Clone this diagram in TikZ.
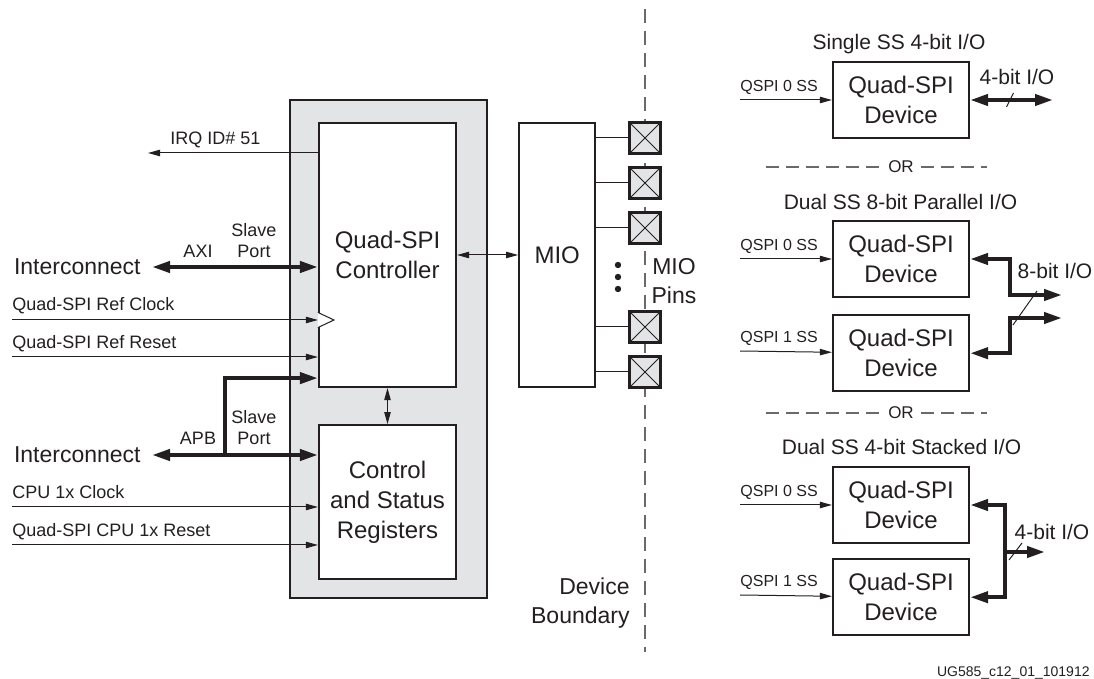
\documentclass[tikz,border=0pt]{standalone}
\usepackage{fontspec}
\setmainfont{Liberation Sans}
\usetikzlibrary{arrows.meta,positioning}
\definecolor{panel}{HTML}{E3E4E5}
\definecolor{ink}{HTML}{231F20}
\definecolor{rule}{HTML}{6A6A6A}

\begin{document}
\begin{tikzpicture}[x=0.5pt, y=-0.5pt,
    box/.style={draw=ink, line width=1.1pt, fill=white, align=center, inner sep=0pt, text=ink, font=\fontsize{12}{15}\selectfont},
    dev/.style={box, minimum width=68pt, minimum height=38pt},
    pin/.style={draw=ink, line width=1.1pt, fill=panel, minimum size=15.5pt, inner sep=0pt,
        path picture={\draw[ink, line width=0.4pt] (path picture bounding box.south west) -- (path picture bounding box.north east)
            (path picture bounding box.north west) -- (path picture bounding box.south east);}},
    wire/.style={draw=ink, line width=0.5pt},
    sig/.style={wire, -{Triangle[length=6pt, width=3.2pt]}},
    dsig/.style={wire, {Triangle[length=6pt, width=3.2pt]}-{Triangle[length=6pt, width=3.2pt]}},
    bus/.style={draw=ink, line width=2pt, -{Triangle[length=9pt, width=5.5pt]}},
    dbus/.style={draw=ink, line width=2pt, {Triangle[length=9pt, width=5.5pt]}-{Triangle[length=9pt, width=5.5pt]}},
    tick/.style={draw=ink, line width=0.5pt},
    lbl/.style={font=\fontsize{9}{10.5}\selectfont, inner sep=0pt, text=ink, align=center},
    small/.style={font=\fontsize{8}{9}\selectfont, inner sep=0pt, text=ink},
    big/.style={font=\fontsize{11.5}{14.5}\selectfont, inner sep=0pt, text=ink},
    title/.style={font=\fontsize{10.5}{12}\selectfont, inner sep=0pt, text=ink},
    orsep/.style={draw=rule, line width=0.6pt, dash pattern=on 6.5pt off 3.5pt}
]
    \useasboundingbox (0,0) rectangle (1094,679);

    % device boundary and pins
    \coordinate (bndtop) at (645,9);
    \coordinate (bndbot) at (645,652);
    \draw[rule, line width=1pt, dash pattern=on 7pt off 4pt] (bndtop) -- (bndbot);

    \node[draw=ink, line width=1.1pt, fill=panel, minimum width=98.5pt, minimum height=249pt] (qspi) at (388.5,349) {};
    \node[box, minimum width=68.5pt, minimum height=132pt] (ctrl) at (387.5,255) {Quad-SPI\\Controller};
    \node[box, minimum width=68.5pt, minimum height=77pt, below=18pt of ctrl] (csr) {Control\\and Status\\Registers};
    \node[box, minimum width=38pt, minimum height=132pt, right=30.5pt of ctrl] (mio) {MIO};

    \node[pin] (pin1) at (645,138) {};
    \node[pin] (pin2) at (645,183) {};
    \node[pin] (pin3) at (645,228) {};
    \node[pin] (pin4) at (645,327) {};
    \node[pin] (pin5) at (645,372) {};
    \draw[wire] (mio.east |- pin1) -- (pin1);
    \draw[wire] (mio.east |- pin2) -- (pin2);
    \draw[wire] (mio.east |- pin3) -- (pin3);
    \draw[wire] (mio.east |- pin4) -- (pin4);
    \draw[wire] (mio.east |- pin5) -- (pin5);
    \fill[ink] (618,265) circle (1.6pt) (618,277) circle (1.6pt) (618,289) circle (1.6pt);

    \node[big, align=center, anchor=north] (pinslbl) at (674,258) {MIO\\Pins};
    \node[big, align=right, anchor=north east] (bndlbl) at (630,577) {Device\\Boundary};

    \draw[dsig] (ctrl) -- (mio);
    \draw[dsig] (ctrl) -- (csr);

    % left side signals
    \coordinate (irq) at (148,153);
    \draw[sig] (ctrl.west |- irq) -- (irq);
    \node[lbl, anchor=base west] (irqlbl) at (170,145) {IRQ ID\# 51};

    \node[big, anchor=east] (icaxi) at (141,267) {Interconnect};
    \draw[dbus] ([xshift=5.5pt]icaxi.east) -- (ctrl.west |- icaxi);
    \node[lbl, anchor=base] (axilbl) at (198,258) {AXI};
    \node[lbl, anchor=south] (axiport) at (254,258) {Slave\\Port};

    \coordinate (refclk) at (12,320);
    \coordinate (refrst) at (12,357);
    \coordinate (cpuclk) at (12,507);
    \coordinate (cpurst) at (12,545);
    \draw[sig] (refclk) -- (ctrl.west |- refclk);
    \draw[sig] (refrst) -- (ctrl.west |- refrst);
    \draw[sig] (cpuclk) -- (csr.west |- cpuclk);
    \draw[sig] (cpurst) -- (csr.west |- cpurst);
    \node[lbl, anchor=base west] at ([yshift=4.5pt]refclk) {Quad-SPI Ref Clock};
    \node[lbl, anchor=base west] at ([yshift=4pt]refrst) {Quad-SPI Ref Reset};
    \node[lbl, anchor=base west] at ([yshift=4pt]cpuclk) {CPU 1x Clock};
    \node[lbl, anchor=base west] at ([yshift=4pt]cpurst) {Quad-SPI CPU 1x Reset};
    \draw[wire, fill=white] ([yshift=3.8pt]ctrl.west |- refclk) -- ([xshift=8pt]ctrl.west |- refclk) -- ([yshift=-3.8pt]ctrl.west |- refclk);

    \node[big, anchor=east] (icapb) at (141,455) {Interconnect};
    \coordinate (apbbr) at (225,455);
    \draw[dbus] ([xshift=5.5pt]icapb.east) -- (csr.west |- icapb);
    \draw[bus] (apbbr) |- ([yshift=5pt]ctrl.south west);
    \node[lbl, anchor=base] (apblbl) at (198,445) {APB};
    \node[lbl, anchor=south] (apbport) at (254,445) {Slave\\Port};

    % flash configurations
    \node[title, anchor=base] (t1) at (899,50) {Single SS 4-bit I/O};
    \node[dev] (dev1) at (901,100) {Quad-SPI\\Device};
    \coordinate (ss1) at (740,100);
    \draw[sig] (ss1) -- (dev1);
    \node[small, anchor=base west] at ([yshift=4pt]ss1) {QSPI 0 SS};
    \coordinate (io1) at (1053,100);
    \draw[dbus] (dev1) -- (io1);
    \draw[tick] (1006.5,107) -- (1013.5,93);
    \node[title, anchor=base] at (1017,85) {4-bit I/O};

    \node[small, font=\fontsize{8.5}{10}\selectfont, inner sep=3.5pt] (or1) at (901,167) {OR};
    \coordinate (or1l) at (766,167);
    \coordinate (or1r) at (987,167);
    \draw[orsep] (or1l) -- (or1);
    \draw[orsep] (or1) -- (or1r);

    \node[title, anchor=base] (t2) at (900.5,210) {Dual SS 8-bit Parallel I/O};
    \node[dev] (dev2) at (901,259) {Quad-SPI\\Device};
    \node[dev, below=8pt of dev2] (dev3) {Quad-SPI\\Device};
    \coordinate (ss2) at (740,259);
    \coordinate (ss3) at (740,351);
    \draw[sig] (ss2) -- (dev2);
    \draw[sig] (ss3) -- (dev3);
    \node[small, anchor=base west] at ([yshift=4pt]ss2) {QSPI 0 SS};
    \node[small, anchor=base west] at ([yshift=4pt]ss3) {QSPI 1 SS};
    \coordinate (j8a) at (1010,295);
    \coordinate (j8b) at (1010,318);
    \coordinate (io8a) at (1062,295);
    \coordinate (io8b) at (1062,318);
    \draw[dbus] (dev2.east) -| (j8a) -- (io8a);
    \draw[dbus] (dev3.east) -| (j8b) -- (io8b);
    \draw[tick] (1013,325) -- (1037,291);
    \node[title, anchor=base] at (1055,279) {8-bit I/O};

    \node[small, font=\fontsize{8.5}{10}\selectfont, inner sep=3.5pt] (or2) at (901,413) {OR};
    \coordinate (or2l) at (766,413);
    \coordinate (or2r) at (987,413);
    \draw[orsep] (or2l) -- (or2);
    \draw[orsep] (or2) -- (or2r);

    \node[title, anchor=base] (t3) at (901.5,455) {Dual SS 4-bit Stacked I/O};
    \node[dev] (dev4) at (901,505) {Quad-SPI\\Device};
    \node[dev, below=7pt of dev4] (dev5) {Quad-SPI\\Device};
    \coordinate (ss4) at (740,505);
    \coordinate (ss5) at (740,595);
    \draw[sig] (ss4) -- (dev4);
    \draw[sig] (ss5) -- (dev5);
    \node[small, anchor=base west] at ([yshift=4pt]ss4) {QSPI 0 SS};
    \node[small, anchor=base west] at ([yshift=4pt]ss5) {QSPI 1 SS};
    \coordinate (j4) at (1005,552);
    \coordinate (io4) at (1045,552);
    \draw[dbus] (dev4.east) -| (j4) |- (dev5.east);
    \draw[bus] (j4) -- (io4);
    \draw[tick] (1009,560) -- (1022,543);
    \node[title, anchor=base] at (1052,540) {4-bit I/O};

    \node[font=\fontsize{7}{8}\selectfont, text=ink, inner sep=0pt, anchor=base east] (docid) at (1090,676) {UG585\_c12\_01\_101912};
\end{tikzpicture}
\end{document}
